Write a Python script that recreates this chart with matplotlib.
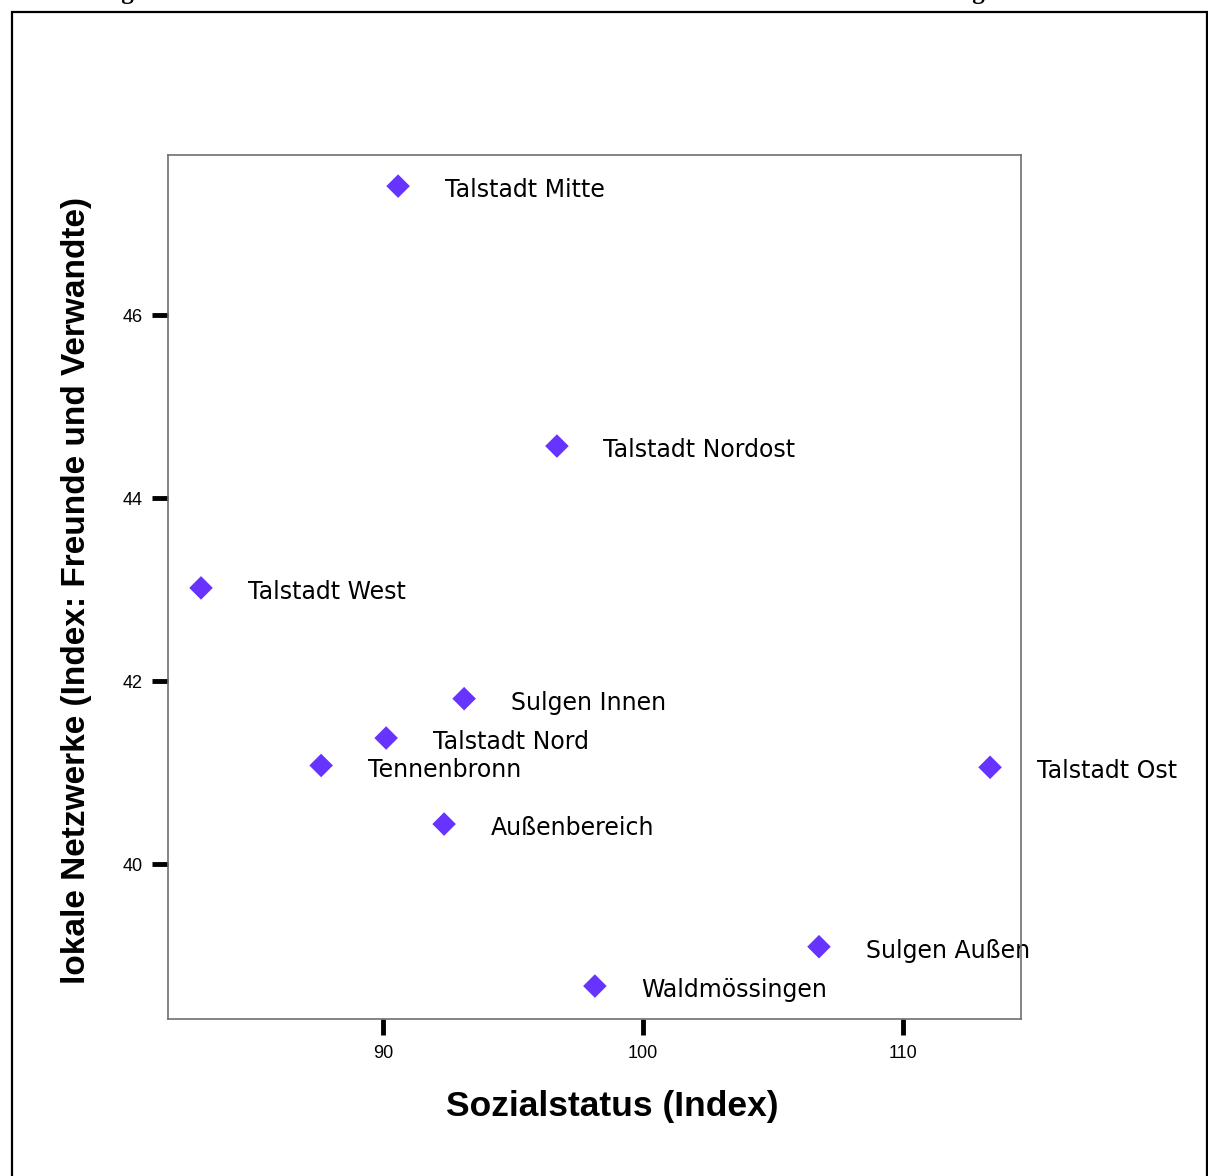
import matplotlib
matplotlib.use("Agg")
import matplotlib.pyplot as plt
from matplotlib.patches import Rectangle

names = ["Talstadt Mitte", "Talstadt Nordost", "Talstadt West", "Sulgen Innen",
         "Talstadt Nord", "Tennenbronn", "Talstadt Ost", "Außenbereich",
         "Sulgen Außen", "Waldmössingen"]
sozialstatus = [90.58, 96.69, 83.0, 93.12, 90.12, 87.62, 113.35, 92.35, 106.77, 98.15]
netzwerke = [47.41, 44.57, 43.02, 41.81, 41.38, 41.08, 41.06, 40.44, 39.10, 38.67]
xticks = [90, 100, 110]
yticks = [40, 42, 44, 46]

W, H = 1208, 1176
fig = plt.figure(figsize=(W / 100, H / 100), dpi=100)
ax = fig.add_axes([168 / W, 1 - 1019 / H, (1021 - 168) / W, (1019 - 155) / H])

ax.scatter(sozialstatus, netzwerke, marker="D", s=12 ** 2, color="#6633FF",
           edgecolors="none", zorder=3)
for n, x, y in zip(names, sozialstatus, netzwerke):
    ax.annotate(n, (x, y), xytext=(33.5, -3), textcoords="offset points",
                va="center", ha="left", fontsize=17, family="DejaVu Sans",
                zorder=2, annotation_clip=False)

ax.set_xlim(81.73, 114.54)
ax.set_ylim(38.31, 47.75)
ax.set_xticks(xticks)
ax.set_yticks(yticks)
ax.tick_params(direction="out", length=11.5, width=3.5, color="black",
               labelsize=13, pad=7)
for lab in ax.get_xticklabels() + ax.get_yticklabels():
    lab.set_family("Liberation Sans")
for s in ax.spines.values():
    s.set_color("#707070")
    s.set_linewidth(1.2)
    s.set_zorder(2.5)

ax.set_xlabel("Sozialstatus (Index)", fontsize=25.5, fontweight="bold",
              family="Liberation Sans")
ax.xaxis.set_label_coords((612 - 168) / (1021 - 168), -(1116 - 1019) / (1019 - 155))
ax.xaxis.label.set_va("baseline")
ax.set_ylabel("lokale Netzwerke (Index: Freunde und Verwandte)", fontsize=24,
              fontweight="bold", family="Liberation Sans")
ax.yaxis.set_label_coords(-(168 - 77) / (1021 - 168), (1019 - 590) / (1019 - 155))
ax.yaxis.label.set_va("center")

fig.patches.append(Rectangle((12 / W, -0.05), (1207 - 12) / W, 1 - 12 / H + 0.05,
                             transform=fig.transFigure, fill=False,
                             edgecolor="black", linewidth=1.6))
fig.text(20 / W, 1 + 1.5 / H,
         "Abbildung 14: Sozialer Status und lokale Netzwerke in den Sozialräumen von Schramberg",
         ha="left", va="baseline", fontsize=18, fontweight="bold",
         family="Liberation Serif")

fig.savefig("out.png", dpi=100)
